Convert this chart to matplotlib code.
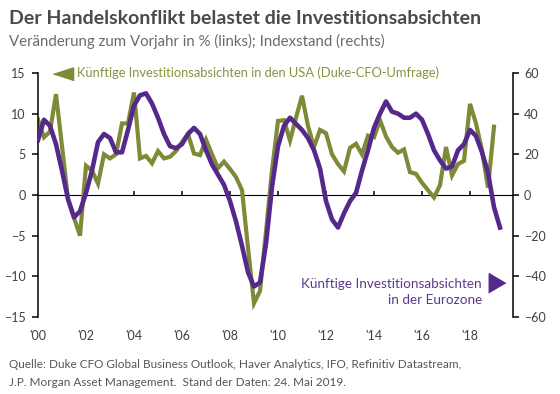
# -*- coding: utf-8 -*-
import numpy as np
import matplotlib
matplotlib.use('Agg')
import matplotlib.pyplot as plt

plt.rcParams['font.family'] = ['Lato', 'DejaVu Sans']

# Duke CFO survey (US), quarterly from Q1 2000, % y/y (left axis)
usa = [9.3, 7.1, 7.8, 12.4, 6.0, -0.5, -2.8, -5.0, 3.6, 3.0,
       1.4, 5.0, 4.5, 5.0, 8.8, 8.8, 12.6, 4.5, 4.8, 3.9,
       5.4, 4.5, 4.7, 5.4, 6.5, 7.5, 5.1, 4.9, 6.8, 5.0,
       3.3, 4.1, 3.2, 2.2, 0.6, -6.5, -13.3, -11.8, -4.5, 3.0,
       9.1, 9.2, 6.7, 9.5, 12.2, 8.5, 5.9, 8.0, 7.6, 5.0,
       3.8, 2.9, 5.8, 6.3, 5.0, 7.3, 7.1, 9.2, 7.2, 5.9,
       5.2, 5.6, 2.8, 2.6, 1.5, 0.6, -0.3, 1.2, 5.9, 2.4,
       3.8, 4.2, 11.2, 8.8, 5.5, 0.9, 8.4]

# IFO investment intentions (Eurozone), index level (right axis)
euro = [27, 37, 34, 25, 12, -2, -11, -8, 1, 12,
        26, 30, 28, 21, 21, 32, 44, 49, 50, 45,
        38, 30, 24, 23, 25, 30, 33, 30, 22, 15,
        10, 5, -3, -13, -25, -38, -45, -43, -24, 4,
        24, 34, 38, 35, 32, 28, 22, 13, -3, -12,
        -16, -9, -3, 1, 12, 22, 33, 40, 46, 41,
        40, 38, 38, 40, 37, 30, 22, 17, 13, 14,
        22, 25, 32, 29, 21, 11, -6, -16]

years = [2000, 2002, 2004, 2006, 2008, 2010, 2012, 2014, 2016, 2018]
year_labels = ["'00", "'02", "'04", "'06", "'08", "'10", "'12", "'14", "'16", "'18"]
left_ticks = [-15, -10, -5, 0, 5, 10, 15]
right_ticks = [-60, -40, -20, 0, 20, 40, 60]

t_usa = 2000 + np.arange(len(usa)) / 4.0
t_euro = 2000 + np.arange(len(euro)) / 4.0

green = '#7e8a37'
green_txt = '#87923f'
purple = '#55298c'
purple_txt = '#5a3a8c'
txt = '#404040'

fig = plt.figure(figsize=(5.6, 3.94), dpi=100)
ax = fig.add_axes([38/560, 1-317/394, 475/560, 244/394])
ax2 = ax.twinx()

ax.plot(t_usa, usa, color=green, linewidth=3.0, solid_joinstyle='miter')
ax2.plot(t_euro, euro, color=purple, linewidth=3.3, solid_joinstyle='round')

ax.set_xlim(2000, 2000 + 475/24)
ax.set_ylim(-15, 15)
ax2.set_ylim(-60, 60)

for s in ['top', 'right', 'bottom']:
    ax.spines[s].set_visible(False)
for s in ['top', 'left', 'bottom']:
    ax2.spines[s].set_visible(False)
ax.spines['left'].set_linewidth(1.1)
ax2.spines['right'].set_linewidth(1.1)

ax.set_yticks(left_ticks)
ax.tick_params(axis='y', direction='out', length=4, width=1.1, pad=5,
               labelsize=9, labelcolor=txt)
ax2.set_yticks(right_ticks)
ax2.tick_params(axis='y', direction='out', length=4, width=1.1, pad=4,
                labelsize=9, labelcolor=txt)

ax.set_xticks(years, year_labels)
ax.tick_params(axis='x', length=0, pad=9, labelsize=9, labelcolor=txt)

# zero line with the year ticks
zero = ax.secondary_xaxis(0.5)
zero.set_xticks(years[1:], [''] * (len(years) - 1))
zero.tick_params(axis='x', direction='out', length=3, width=1.1)
zero.spines['bottom'].set_linewidth(1.1)

# legend annotations
ax.plot([0.0526], [0.996], transform=ax.transAxes, clip_on=False,
        marker=[(-1, 0), (1, 0.65), (1, -0.65)], markersize=14.5,
        color=green, linestyle='none')
ax.text(0.082, 1.0, 'Künftige Investitionsabsichten in den USA (Duke-CFO-Umfrage)',
        transform=ax.transAxes, ha='left', va='center', fontsize=9.3, color=green_txt)

ax.text(0.9347, 0.135, 'Künftige Investitionsabsichten', transform=ax.transAxes,
        ha='right', va='center', fontsize=9.7, color=purple_txt)
ax.text(0.9347, 0.0697, 'in der Eurozone', transform=ax.transAxes,
        ha='right', va='center', fontsize=9.7, color=purple_txt)
ax.plot([0.966], [0.139], transform=ax.transAxes, clip_on=False,
        marker=[(0.85, 0), (-0.85, 1), (-0.85, -1)], markersize=14,
        color=purple, linestyle='none')

fig.text(9/560, 1-19/394, 'Der Handelskonflikt belastet die Investitionsabsichten',
         ha='left', va='center', fontsize=14, fontweight='bold', color='#4a4a4a')
fig.text(9/560, 1-41/394, 'Veränderung zum Vorjahr in % (links); Indexstand (rechts)',
         ha='left', va='center', fontsize=10.8, color='#6a6a6a')

fig.text(9/560, 1-365/394,
         'Quelle: Duke CFO Global Business Outlook, Haver Analytics, IFO, Refinitiv Datastream,',
         ha='left', va='center', fontsize=8.5, color='#555555')
fig.text(9/560, 1-382/394,
         'J.P. Morgan Asset Management.  Stand der Daten: 24. Mai 2019.',
         ha='left', va='center', fontsize=8.5, color='#555555')

fig.savefig('out.png', dpi=100)
